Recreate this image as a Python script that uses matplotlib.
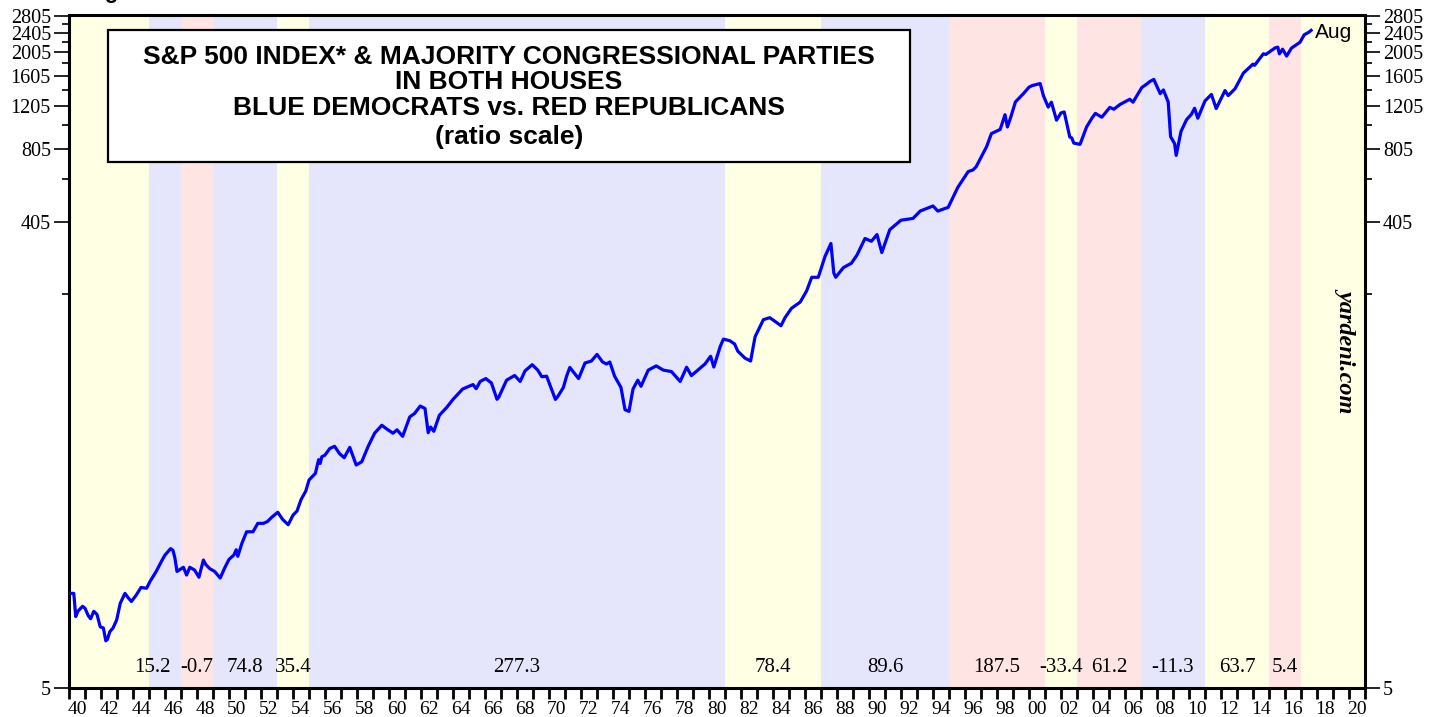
import matplotlib
matplotlib.use("Agg")
import matplotlib.pyplot as plt
from matplotlib.patches import Rectangle
from matplotlib.ticker import FixedLocator, NullFormatter, FixedFormatter
import matplotlib.transforms as mtransforms

# S&P 500 (monthly), decimal years
dates = [
    1940.0, 1940.3, 1940.42, 1940.55, 1940.85, 1941.0, 1941.2, 1941.35, 1941.55, 1941.75,
    1941.95, 1942.15, 1942.3, 1942.4, 1942.55, 1942.75, 1942.98, 1943.2, 1943.5, 1943.7,
    1943.9, 1944.2, 1944.5, 1944.85, 1945.05, 1945.45, 1945.8, 1946.0, 1946.35, 1946.5,
    1946.62, 1946.75, 1946.95, 1947.15, 1947.35, 1947.55, 1947.85, 1948.12, 1948.4, 1948.55,
    1948.8, 1949.1, 1949.45, 1949.75, 1950.0, 1950.3, 1950.45, 1950.55, 1950.8, 1951.1,
    1951.5, 1951.8, 1952.15, 1952.4, 1952.7, 1953.05, 1953.35, 1953.7, 1954.0, 1954.25,
    1954.5, 1954.8, 1955.0, 1955.4, 1955.6, 1955.7, 1955.8, 1956.0, 1956.3, 1956.6,
    1956.9, 1957.2, 1957.55, 1957.95, 1958.3, 1958.7, 1959.1, 1959.55, 1959.85, 1960.25,
    1960.5, 1960.85, 1961.3, 1961.6, 1961.95, 1962.25, 1962.45, 1962.6, 1962.8, 1963.15,
    1963.6, 1964.0, 1964.6, 1965.25, 1965.45, 1965.7, 1966.05, 1966.4, 1966.75, 1966.85,
    1967.35, 1967.85, 1968.2, 1968.5, 1968.95, 1969.3, 1969.55, 1969.85, 1970.4, 1970.55,
    1970.9, 1971.1, 1971.3, 1971.85, 1972.25, 1972.65, 1973.0, 1973.35, 1973.6, 1973.8,
    1974.1, 1974.5, 1974.75, 1975.0, 1975.25, 1975.55, 1975.75, 1976.2, 1976.7, 1977.15,
    1977.65, 1978.2, 1978.6, 1978.9, 1979.3, 1979.75, 1980.1, 1980.3, 1980.7, 1980.9,
    1981.3, 1981.6, 1981.8, 1982.25, 1982.6, 1982.88, 1983.4, 1983.8, 1984.15, 1984.5,
    1984.75, 1985.15, 1985.7, 1986.1, 1986.42, 1986.83, 1987.25, 1987.62, 1987.8, 1987.92,
    1988.4, 1988.9, 1989.25, 1989.75, 1990.15, 1990.5, 1990.8, 1991.3, 1992.0, 1992.75,
    1993.2, 1994.0, 1994.3, 1994.95, 1995.55, 1996.2, 1996.5, 1996.7, 1997.35, 1997.65,
    1998.2, 1998.5, 1998.65, 1998.85, 1999.15, 1999.65, 2000.0, 2000.2, 2000.7, 2000.9,
    2001.2, 2001.4, 2001.72, 2002.0, 2002.2, 2002.55, 2002.67, 2002.8, 2003.19, 2003.6,
    2003.95, 2004.15, 2004.55, 2005.05, 2005.3, 2005.7, 2006.3, 2006.5, 2007.05, 2007.4,
    2007.56, 2007.8, 2008.2, 2008.4, 2008.7, 2008.85, 2009.1, 2009.2, 2009.5, 2009.85,
    2010.15, 2010.35, 2010.55, 2011.0, 2011.4, 2011.7, 2012.25, 2012.45, 2012.88, 2013.4,
    2014.0, 2014.1, 2014.65, 2014.8, 2015.38, 2015.55, 2015.65, 2015.85, 2016.1, 2016.4,
    2016.94, 2017.2, 2017.5, 2017.63,
]
sp500 = [
    12.2, 12.2, 9.8, 10.3, 10.8, 10.6, 9.9, 9.6, 10.3, 10.0,
    8.9, 8.8, 7.8, 7.9, 8.5, 8.8, 9.5, 11.1, 12.2, 11.7,
    11.3, 12.0, 12.9, 12.8, 13.6, 15.0, 16.6, 17.5, 18.6, 18.3,
    17.0, 15.0, 15.3, 15.6, 14.5, 15.6, 15.2, 14.2, 16.7, 16.0,
    15.4, 15.0, 14.1, 15.6, 16.8, 17.5, 18.4, 17.3, 19.5, 21.8,
    21.8, 23.6, 23.6, 24.0, 25.1, 26.2, 24.5, 23.3, 25.5, 26.5,
    29.5, 32.0, 35.5, 37.8, 43.0, 41.5, 44.2, 44.9, 47.8, 48.8,
    45.6, 43.8, 48.3, 40.9, 42.2, 48.8, 55.2, 59.5, 57.5, 55.2,
    57.0, 53.6, 64.4, 66.5, 71.3, 69.7, 55.5, 58.5, 56.2, 65.4,
    70.3, 75.9, 83.7, 87.3, 84.0, 89.9, 92.4, 88.6, 76.0, 77.3,
    91.0, 95.1, 89.9, 99.3, 105.3, 100.0, 94.0, 94.5, 75.9, 78.0,
    85.0, 94.5, 102.6, 92.4, 107.0, 109.0, 116.0, 108.0, 106.0, 108.0,
    94.5, 84.9, 68.9, 67.8, 83.7, 91.0, 85.9, 100.0, 104.1, 100.0,
    98.7, 89.9, 102.8, 95.0, 100.0, 106.0, 114.0, 103.0, 124.9, 134.0,
    132.0, 128.0, 119.6, 112.0, 109.0, 137.0, 161.0, 164.0, 158.0, 152.0,
    164.0, 179.0, 190.0, 211.0, 240.0, 240.0, 292.0, 330.0, 250.0, 240.0,
    263.0, 274.0, 296.0, 346.0, 337.0, 359.0, 303.0, 376.0, 411.0, 418.0,
    448.0, 470.0, 448.0, 464.0, 560.0, 650.0, 660.0, 681.0, 822.0, 930.0,
    967.0, 1111.0, 990.0, 1080.0, 1253.0, 1355.0, 1440.0, 1462.0, 1490.0, 1330.0,
    1193.0, 1250.0, 1055.0, 1130.0, 1140.0, 900.0, 893.0, 850.0, 840.0, 990.0,
    1080.0, 1125.0, 1085.0, 1190.0, 1170.0, 1225.0, 1285.0, 1250.0, 1435.0, 1490.0,
    1520.0, 1549.0, 1355.0, 1403.0, 1253.0, 903.0, 846.0, 757.0, 949.0, 1061.0,
    1115.0, 1180.0, 1075.0, 1265.0, 1345.0, 1177.0, 1395.0, 1330.0, 1420.0, 1645.0,
    1790.0, 1770.0, 1973.0, 1960.0, 2085.0, 2100.0, 1972.0, 2060.0, 1930.0, 2080.0,
    2200.0, 2360.0, 2420.0, 2460.0,
]

# majority party periods (start of Congress), Y = split, D = Democrats, R = Republicans
period_starts = [1940, 1945, 1947, 1949, 1953, 1955, 1981, 1987, 1995, 2001, 2003, 2007, 2011, 2015, 2017]
period_ends = [1945, 1947, 1949, 1953, 1955, 1981, 1987, 1995, 2001, 2003, 2007, 2011, 2015, 2017, 2021]
period_party = ["Y", "D", "R", "D", "Y", "D", "Y", "D", "R", "Y", "R", "D", "Y", "R", "Y"]

pct_labels = ["15.2", "-0.7", "74.8", "35.4", "277.3", "78.4", "89.6", "187.5",
              "-33.4", "61.2", "-11.3", "63.7", "5.4"]
pct_x = [1945.2, 1948.0, 1951.0, 1954.0, 1968.0, 1984.0, 1991.0, 1998.0,
         2002.0, 2005.0, 2009.0, 2013.0, 2016.0]

major_y = [5, 405, 805, 1205, 1605, 2005, 2405, 2805]
minor_y = [205, 605, 1005, 1405, 1805, 2205, 2605]

colors = {"Y": "#FFFFE3", "D": "#E5E5FB", "R": "#FFE4E4"}

serif = "Liberation Serif"
sans = "Liberation Sans"

fig = plt.figure(figsize=(14.4, 7.17), dpi=100)
ax = fig.add_axes([69 / 1440, 1 - 688 / 717, 1296 / 1440, 672.5 / 717])

for s, e, p in zip(period_starts, period_ends, period_party):
    ax.axvspan(s, e, color=colors[p], lw=0, zorder=0)

ax.plot(dates, sp500, color="#0000FF", lw=2.3, zorder=3)

ax.set_yscale("log")
ax.set_ylim(5, 2830)
ax.set_xlim(1940, 2021)

# y axis, both sides
ax.yaxis.set_major_locator(FixedLocator(major_y))
ax.yaxis.set_major_formatter(FixedFormatter([str(v) for v in major_y]))
ax.yaxis.set_minor_locator(FixedLocator(minor_y))
ax.yaxis.set_minor_formatter(NullFormatter())
ax.tick_params(axis="y", which="major", length=11, width=1.2, direction="out",
               left=True, right=True, labelleft=True, labelright=True, labelsize=14.5, pad=2)
ax.tick_params(axis="y", which="minor", length=5, width=1.2, direction="out", left=True, right=True)

# x axis: ticks at year starts, labels at mid-year of even years
years = list(range(1940, 2022))
label_years = list(range(1940, 2021, 2))
ax.xaxis.set_major_locator(FixedLocator(years))
ax.xaxis.set_major_formatter(NullFormatter())
ax.xaxis.set_minor_locator(FixedLocator([y + 0.5 for y in label_years]))
ax.xaxis.set_minor_formatter(FixedFormatter(["%02d" % (y % 100) for y in label_years]))
ax.tick_params(axis="x", which="major", length=8, width=2, direction="out")
ax.tick_params(axis="x", which="minor", length=0, labelsize=14, pad=9)

for lab in ax.get_xticklabels(minor=True) + ax.get_yticklabels():
    lab.set_family(serif)
for lab in ax.yaxis.get_ticklabels(which="major"):
    lab.set_family(serif)

for sp in ax.spines.values():
    sp.set_linewidth(2.2)
    sp.set_color("black")

trans = mtransforms.blended_transform_factory(ax.transData, ax.transAxes)
for x, t in zip(pct_x, pct_labels):
    ax.text(x, 0.031, t, transform=trans, ha="center", va="center",
            fontsize=15, family=serif, zorder=4)

# title box
ax.add_patch(Rectangle((0.0301, 0.7822), 0.6188, 0.1962, transform=ax.transAxes,
                       facecolor="white", edgecolor="black", lw=1.6, zorder=5))
title_lines = ["S&P 500 INDEX* & MAJORITY CONGRESSIONAL PARTIES", "IN BOTH HOUSES",
               "BLUE DEMOCRATS vs. RED REPUBLICANS", "(ratio scale)"]
title_y = [57, 82, 108, 137]
for t, y in zip(title_lines, title_y):
    fig.text(509 / 1440, 1 - y / 717, t, ha="center", va="center", fontsize=19,
             fontweight="bold", family=sans, zorder=6)

ax.text(2017.9, 2405, "Aug", ha="left", va="center", fontsize=15, family=sans, zorder=4)
fig.text(1347 / 1440, 1 - 350 / 717, "yardeni.com", rotation=270, ha="center", va="center",
         fontsize=17.5, fontweight="bold", style="italic", family=serif)
fig.text(85 / 1440, 1 + 2 / 717, "Figure 3.", ha="left", va="baseline", fontsize=16,
         fontweight="bold", family=sans)

fig.savefig("out.png", dpi=100)
